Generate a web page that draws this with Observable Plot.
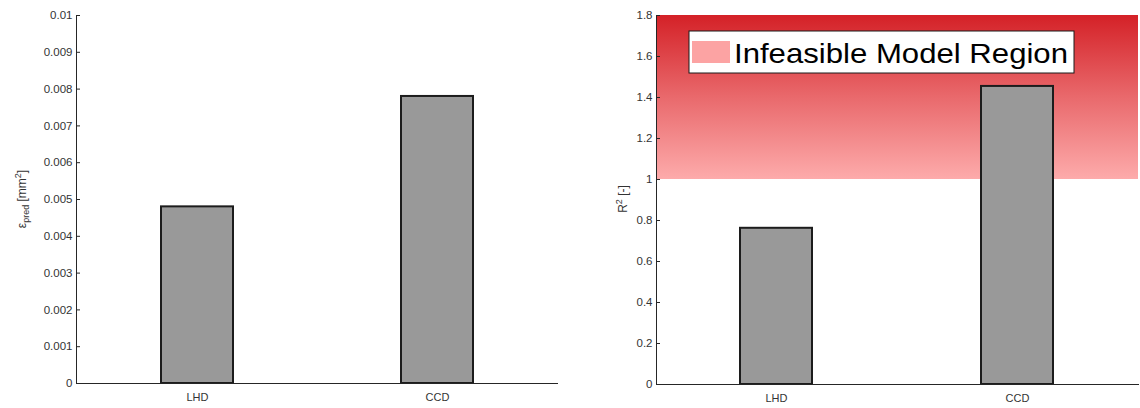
<!DOCTYPE html>
<html><head><meta charset="utf-8">
<script src="https://cdn.jsdelivr.net/npm/d3@7"></script>
<script src="https://cdn.jsdelivr.net/npm/@observablehq/plot@0.6"></script>
<style>
body{margin:0;background:#fff}
#wrap{display:flex;width:1140px;height:408px}
svg{font-family:"Liberation Sans",Arial,sans-serif}
</style>
</head><body><div id="wrap"></div>
<script>
const categories = ["LHD", "CCD"];
const errorValues = [0.0048, 0.0078];
const r2Values = [0.762, 1.454];
const errorTicks = [0, 0.001, 0.002, 0.003, 0.004, 0.005, 0.006, 0.007, 0.008, 0.009, 0.01];
const r2Ticks = [0, 0.2, 0.4, 0.6, 0.8, 1, 1.2, 1.4, 1.6, 1.8];
const infeasibleRange = [1, 1.8];
const legendLabel = "Infeasible Model Region";

const axisColor = "#333333";
const fmt = d => String(+d.toFixed(4));
const wrap = document.getElementById("wrap");

function panel({values, ticks, domain, marginLeft, marginRight, marginBottom, extra = []}) {
  const data = categories.map((c, i) => ({cat: c, v: values[i]}));
  return Plot.plot({
    width: 570, height: 408,
    marginTop: 15, marginBottom, marginLeft, marginRight,
    style: {fontFamily: "'Liberation Sans', Arial, sans-serif", color: axisColor, background: "#fff"},
    x: {domain: categories, paddingInner: 0.7, paddingOuter: 0.35, label: null},
    y: {domain, label: null},
    marks: [
      ...extra,
      Plot.barY(data, {x: "cat", y: "v", fill: "#999999", stroke: "#1c1c1c", strokeWidth: 2}),
      Plot.frame({anchor: "left", stroke: "#262626"}),
      Plot.frame({anchor: "bottom", stroke: "#262626"}),
      Plot.axisY({ticks, tickFormat: fmt, tickSize: -4, tickPadding: 8, fontSize: 11.5, label: null, stroke: "#262626", fill: axisColor}),
      Plot.axisX({tickSize: 0, tickPadding: 10, fontSize: 11, label: null, fill: axisColor})
    ]
  });
}

// Left panel
const left = panel({values: errorValues, ticks: errorTicks, domain: [0, 0.01], marginLeft: 76, marginRight: 13, marginBottom: 25});
wrap.appendChild(left);
{
  const s = d3.select(left);
  const t = s.append("text").attr("transform", "translate(26,199) rotate(-90)")
    .attr("text-anchor", "middle").attr("fill", axisColor).attr("font-size", 12)
    .attr("font-family", "'Liberation Sans', Arial, sans-serif");
  t.append("tspan").text("ε");
  t.append("tspan").attr("font-size", 9).attr("dy", 3).text("pred");
  t.append("tspan").attr("dy", -3).text(" [mm");
  t.append("tspan").attr("font-size", 9).attr("dy", -5).text("2");
  t.append("tspan").attr("dy", 5).text("]");
}

// Right panel
const region = [{y1: infeasibleRange[0], y2: infeasibleRange[1]}];
const right = panel({
  values: r2Values, ticks: r2Ticks, domain: [0, 1.8], marginLeft: 86, marginRight: 2, marginBottom: 24,
  extra: [Plot.rect(region, {y1: "y1", y2: "y2", fill: "url(#infeasGrad)"})]
});
wrap.appendChild(right);
{
  const s = d3.select(right);
  const defs = s.insert("defs", ":first-child");
  const g = defs.append("linearGradient").attr("id", "infeasGrad")
    .attr("x1", 0).attr("y1", 0).attr("x2", 0).attr("y2", 1);
  g.append("stop").attr("offset", "0%").attr("stop-color", "#d42127");
  g.append("stop").attr("offset", "50%").attr("stop-color", "#e9696c");
  g.append("stop").attr("offset", "100%").attr("stop-color", "#fdabab");

  const t = s.append("text").attr("transform", "translate(57,199) rotate(-90)")
    .attr("text-anchor", "middle").attr("fill", axisColor).attr("font-size", 12)
    .attr("font-family", "'Liberation Sans', Arial, sans-serif");
  t.append("tspan").text("R");
  t.append("tspan").attr("font-size", 9).attr("dy", -5).text("2");
  t.append("tspan").attr("dy", 5).text(" [-]");

  const lg = s.append("g").attr("text-anchor", "start");
  lg.append("rect").attr("x", 119).attr("y", 31).attr("width", 385).attr("height", 42)
    .attr("fill", "#fff").attr("stroke", "#1a1a1a").attr("stroke-width", 1);
  lg.append("rect").attr("x", 122).attr("y", 41).attr("width", 38).attr("height", 22).attr("fill", "#fca3a3");
  lg.append("text").attr("x", 164).attr("y", 63).attr("font-size", 28).attr("fill", "#000")
    .attr("textLength", 334).attr("lengthAdjust", "spacingAndGlyphs")
    .attr("text-anchor", "start").attr("font-family", "'Liberation Sans', Arial, sans-serif").text(legendLabel);
}
</script>
</body></html>
